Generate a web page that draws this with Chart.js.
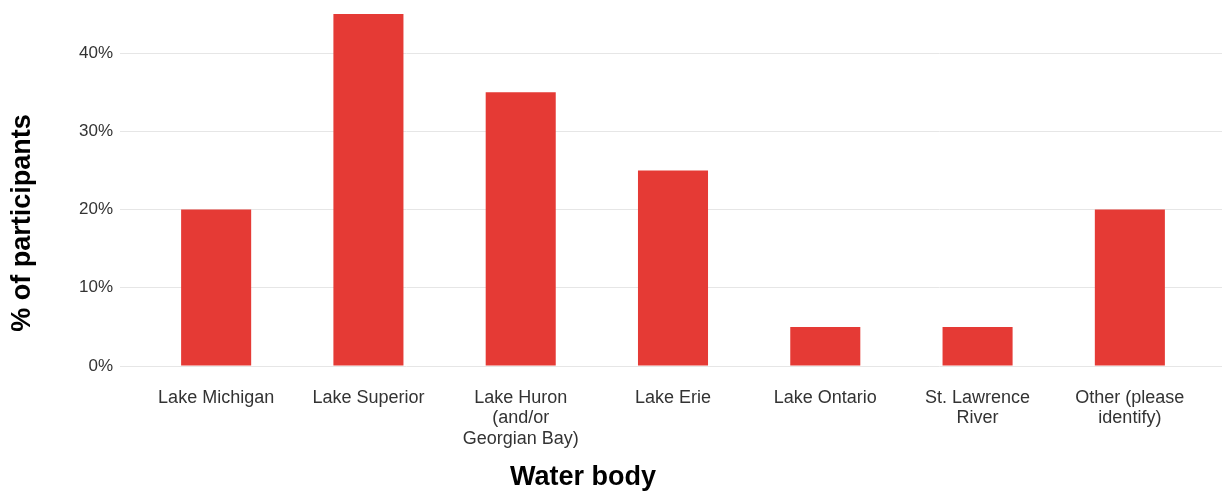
<!DOCTYPE html>
<html>
<head>
<meta charset="utf-8">
<script src="https://cdn.jsdelivr.net/npm/chart.js@4/dist/chart.umd.min.js"></script>
<style>
  html, body { margin: 0; padding: 0; background: #ffffff; }
  #wrap { width: 1222px; height: 495px; position: relative; }
</style>
</head>
<body>
<div id="wrap"><canvas id="chart"></canvas></div>
<script>
// Survey: which water body participants are associated with
const categories = [
  'Lake Michigan',
  'Lake Superior',
  ['Lake Huron', '(and/or', 'Georgian Bay)'],
  'Lake Erie',
  'Lake Ontario',
  ['St. Lawrence', 'River'],
  ['Other (please', 'identify)']
];
const shareOfParticipants = [20, 45, 35, 25, 5, 5, 20];
const yTickValues = [0, 10, 20, 30, 40];
const yAxisTitle = '% of participants';
const xAxisTitle = 'Water body';

const FONT = "'Liberation Sans', Arial, Helvetica, sans-serif";
const GRID = '#e6e6e6';

// Axis titles drawn in their own positions around the plot
const axisTitles = {
  id: 'axisTitles',
  afterDraw(chart) {
    const ctx = chart.ctx;
    ctx.save();
    ctx.fillStyle = '#000000';
    ctx.font = 'bold 27px ' + FONT;
    ctx.textAlign = 'center';
    ctx.textBaseline = 'middle';
    ctx.fillText(xAxisTitle, 583, 478);
    ctx.translate(23, 223);
    ctx.rotate(-Math.PI / 2);
    ctx.fillText(yAxisTitle, 0, 0);
    ctx.restore();
  }
};

const keepTicks = (scale) => {
  scale.ticks = yTickValues.map(v => ({ value: v }));
};

// Vertical axes should not push the plot down to make room for labels
const fitVertical = (width) => (scale) => {
  scale.width = width;
  scale.paddingTop = 0;
  scale.paddingBottom = 0;
};

new Chart(document.getElementById('chart'), {
  type: 'bar',
  data: {
    labels: categories,
    datasets: [{
      data: shareOfParticipants,
      backgroundColor: '#e53a35',
      borderWidth: 0,
      barPercentage: 0.46,
      categoryPercentage: 1.0
    }]
  },
  options: {
    responsive: true,
    maintainAspectRatio: false,
    animation: false,
    layout: { padding: { top: 14, left: 0, right: 0, bottom: 0 } },
    plugins: {
      legend: { display: false },
      tooltip: { enabled: false }
    },
    scales: {
      x: {
        position: 'bottom',
        grid: { display: false },
        border: { display: false },
        ticks: {
          color: '#333333',
          font: { family: FONT, size: 18, lineHeight: 1.13 },
          padding: 14,
          maxRotation: 0,
          autoSkip: false
        },
        afterFit(scale) { scale.height = 129; }
      },
      y: {
        position: 'left',
        min: 0,
        max: 45,
        afterBuildTicks: keepTicks,
        grid: { color: GRID, lineWidth: 1, drawTicks: true, tickLength: 20, tickColor: GRID },
        border: { display: false },
        ticks: {
          color: '#333333',
          font: { family: FONT, size: 17 },
          padding: 7,
          callback: (v) => v + '%'
        },
        afterFit: fitVertical(140)
      },
      yRight: {
        position: 'right',
        min: 0,
        max: 45,
        afterBuildTicks: keepTicks,
        grid: { color: GRID, lineWidth: 1, drawOnChartArea: false, drawTicks: true, tickLength: 16, tickColor: GRID },
        border: { display: false },
        ticks: { display: false },
        afterFit: fitVertical(16)
      }
    }
  },
  plugins: [axisTitles]
});
</script>
</body>
</html>
